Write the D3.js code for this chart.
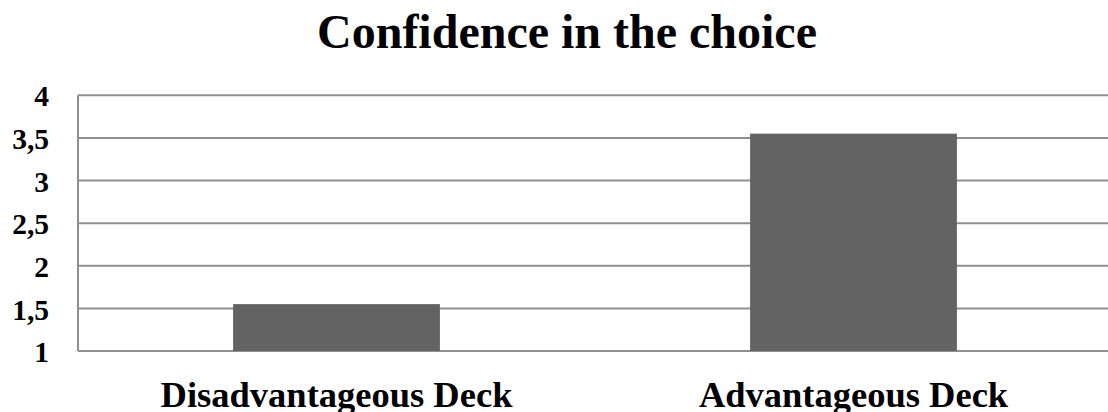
<!DOCTYPE html>
<html>
<head>
<meta charset="utf-8">
<script src="https://cdn.jsdelivr.net/npm/d3@7/dist/d3.min.js"></script>
<style>
  html, body { margin: 0; padding: 0; background: #fff; }
  svg text { font-family: "Liberation Serif", "Times New Roman", serif; font-weight: bold; fill: #000; }
</style>
</head>
<body>
<svg id="chart" width="1108" height="412"></svg>
<script>
// Mean confidence rating per deck type
const categories = ["Disadvantageous Deck", "Advantageous Deck"];
const confidence = [1.55, 3.55];
const yTicks = [1, 1.5, 2, 2.5, 3, 3.5, 4];
const title = "Confidence in the choice";

const svg = d3.select("#chart");
const W = 1108, H = 412;
const plot = { left: 78, right: 1112, top: 95.3, bottom: 351 };

const x = d3.scaleBand()
  .domain(categories)
  .range([plot.left, plot.right])
  .paddingInner(0.6)
  .paddingOuter(0.3);

const y = d3.scaleLinear()
  .domain([1, 4])
  .range([plot.bottom, plot.top]);

const fmt = d => String(d).replace(".", ",");

// horizontal gridlines
svg.append("g")
  .selectAll("line")
  .data(yTicks)
  .join("line")
  .attr("x1", plot.left)
  .attr("x2", W)
  .attr("y1", d => y(d))
  .attr("y2", d => y(d))
  .attr("stroke", "#8f8f8f")
  .attr("stroke-width", 2);

// left axis line
svg.append("line")
  .attr("x1", plot.left).attr("x2", plot.left)
  .attr("y1", plot.top).attr("y2", plot.bottom)
  .attr("stroke", "#8f8f8f")
  .attr("stroke-width", 2);

// bars
svg.append("g")
  .selectAll("rect")
  .data(confidence)
  .join("rect")
  .attr("x", (d, i) => x(categories[i]))
  .attr("width", x.bandwidth())
  .attr("y", d => y(d))
  .attr("height", d => y(1) - y(d))
  .attr("fill", "#636363");

// y tick labels
const yAxis = d3.axisLeft(y)
  .tickValues(yTicks)
  .tickFormat(fmt)
  .tickSize(0)
  .tickPadding(29);
const gy = svg.append("g")
  .attr("transform", `translate(${plot.left},0)`)
  .call(yAxis);
gy.select(".domain").remove();
gy.selectAll("text")
  .attr("dy", "0.36em")
  .attr("font-size", 29.5)
  .attr("font-family", "Liberation Serif, Times New Roman, serif")
  .attr("font-weight", "bold")
  .attr("fill", "#000");

// category labels
const xAxis = d3.axisBottom(x).tickSize(0).tickPadding(0);
const gx = svg.append("g")
  .attr("transform", `translate(0,${plot.bottom})`)
  .call(xAxis);
gx.select(".domain").remove();
gx.selectAll("text")
  .attr("dy", null)
  .attr("y", 55.5)
  .attr("font-size", 36.5)
  .attr("font-family", "Liberation Serif, Times New Roman, serif")
  .attr("font-weight", "bold")
  .attr("fill", "#000");

// title
svg.append("text")
  .attr("x", 567)
  .attr("y", 48)
  .attr("text-anchor", "middle")
  .attr("font-size", 48)
  .text(title);
</script>
</body>
</html>
